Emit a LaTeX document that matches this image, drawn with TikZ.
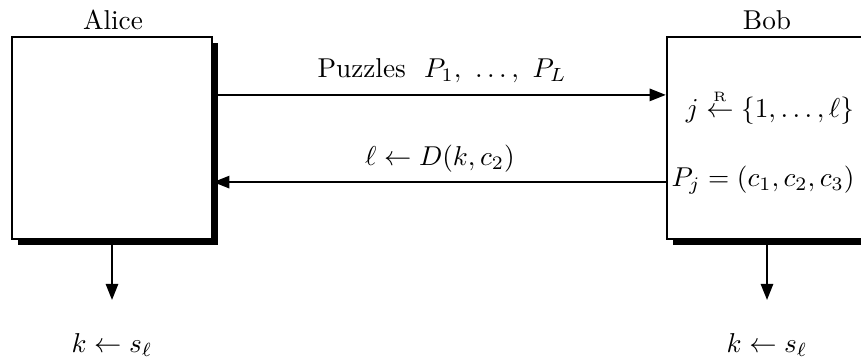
\documentclass[tikz,border=0pt]{standalone}
\usetikzlibrary{shadows,arrows.meta,backgrounds}
\begin{document}
\begin{tikzpicture}[x=0.3922pt,y=-0.3922pt,
  party/.style={draw, line width=1pt, fill=white, minimum width=78.4pt, minimum height=79.2pt, inner sep=0pt,
    drop shadow={fill=black, opacity=1, shadow xshift=2.4pt, shadow yshift=-2.4pt, shadow scale=1}},
  msg/.style={line width=0.8pt, -{Triangle[length=6.3pt,width=4.8pt]}},
  lbl/.style={inner sep=1pt, scale=1.07, transform shape}]
\useasboundingbox (0,0) rectangle (861,360);
\node[party] (alice) at (112,138) {};
\node[party] (bob) at (767,138) {};
\node[lbl, anchor=base] (alicename) at (113,30) {Alice};
\node[lbl, anchor=base] (bobname) at (767,30) {Bob};
\node[lbl] (plbl) at (442,71) {Puzzles\ \ $P_1,\ \ldots,\ P_L$};
\node[lbl] (dlbl) at (440,159) {$\ell \leftarrow D(k,c_2)$};
\node[lbl] (jsel) at (770,107) {$j \stackrel{\scriptscriptstyle\mathrm{R}}{\leftarrow} \{1,\ldots,\ell\}$};
\node[lbl] (pj) at (763,180) {$P_j = (c_1,c_2,c_3)$};
\node[lbl] (ak) at (112,345) {$k \leftarrow s_\ell$};
\node[lbl] (bk) at (767,345) {$k \leftarrow s_\ell$};
\coordinate (aend) at (112,300);
\coordinate (bend) at (767,300);
\begin{pgfonlayer}{background}
\draw[msg] ([yshift=16.9pt]alice.east) -- ([yshift=16.9pt]bob.west);
\draw[msg] ([yshift=-17.3pt]bob.west) -- ([yshift=-17.3pt]alice.east);
\draw[msg] (alice.south) -- (aend);
\draw[msg] (bob.south) -- (bend);
\end{pgfonlayer}
\end{tikzpicture}
\end{document}
